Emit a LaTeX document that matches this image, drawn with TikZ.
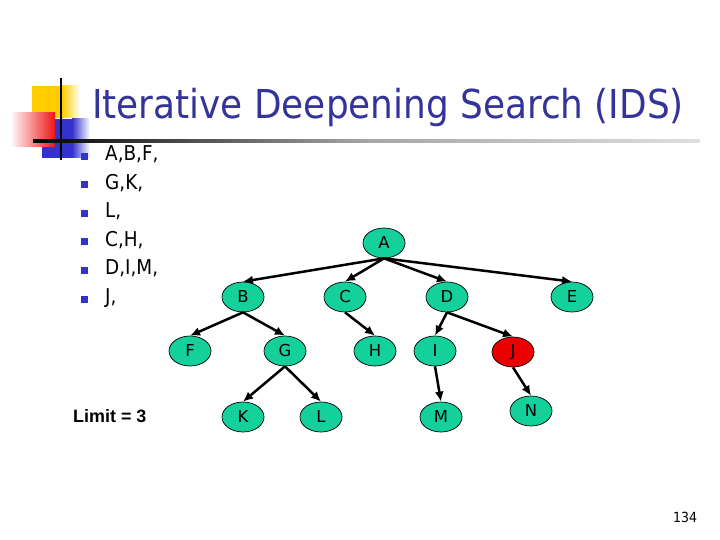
\documentclass[tikz,border=0pt]{standalone}
\usepackage{fontspec}
\setmainfont{DejaVu Sans Condensed}
\newfontfamily\arialfont{Liberation Sans}
\newfontfamily\labfont{DejaVu Sans}
\usetikzlibrary{arrows.meta,shapes.geometric}
\definecolor{titleblue}{RGB}{51,51,153}
\definecolor{bulblue}{RGB}{51,51,204}
\definecolor{decoyellow}{RGB}{255,204,0}
\definecolor{decored}{RGB}{240,20,20}
\definecolor{nodegreen}{RGB}{20,208,155}
\definecolor{nodered}{RGB}{235,0,0}
\tikzset{
  tnode/.style={ellipse,draw=black,line width=0.7bp,fill=nodegreen,minimum width=42bp,minimum height=30bp,inner sep=0pt,font=\labfont\fontsize{16.5}{16.5}\selectfont},
  rnode/.style={tnode,fill=nodered},
  edge/.style={line width=2.5bp,-{Latex[length=10bp,width=9bp]}},
  bul/.style={fill=bulblue,minimum size=7bp,inner sep=0pt},
  btext/.style={anchor=base west,inner sep=0pt,font=\fontsize{20.5}{20.5}\selectfont}
}
\begin{document}
\begin{tikzpicture}[x=1bp,y=-1bp]
\useasboundingbox (0,0) rectangle (720,540);
% decoration
\fill[decoyellow] (32,86) rectangle (62,118);
\shade[left color=decoyellow,right color=white] (62,86) rectangle (80,118);
\fill[bulblue] (42,119) rectangle (72,158);
\shade[left color=bulblue,right color=white] (72,119) rectangle (90,158);
\shade[left color=white,right color=decored] (10,113) rectangle (55,147);
\draw[line width=2bp,black] (61,78) -- (61,160);
\shade[left color=black,right color=gray!25,middle color=gray!70] (33,139.7) rectangle (700,142.3);
% title
\node[anchor=base west,inner sep=0pt,text=titleblue,font=\fontsize{40}{40}\selectfont] (title) at (92,119) {Iterative Deepening Search (IDS)};
% bullets
\foreach \y/\t [count=\i] in {161/{A,B,F,},189.5/{G,K,},218/{L,},246.5/{C,H,},275/{D,I,M,},303.5/{J,}}{
  \node[bul] (b\i) at (84,\y-4.5) {};
  \node[btext] (t\i) at (105,\y) {\t};
}
% tree
\node[tnode] (A) at (384,243) {A};
\node[tnode] (B) at (243,297) {B};
\node[tnode] (C) at (345,297) {C};
\node[tnode] (D) at (447,297) {D};
\node[tnode] (E) at (572,297) {E};
\node[tnode] (F) at (190,351) {F};
\node[tnode] (G) at (285,351) {G};
\node[tnode] (H) at (375,351) {H};
\node[tnode] (I) at (435,351) {I};
\node[rnode] (J) at (513,352) {J};
\node[tnode] (K) at (243,417) {K};
\node[tnode] (L) at (321,417) {L};
\node[tnode] (M) at (441,417) {M};
\node[tnode] (N) at (531,411) {N};
\draw[edge] (A.south) -- (B.north);
\draw[edge] (A.south) -- (C.north);
\draw[edge] (A.south) -- (D.north);
\draw[edge] (A.south) -- (E.north);
\draw[edge] (B.south) -- (F.north);
\draw[edge] (B.south) -- (G.north);
\draw[edge] (C.south) -- (H.north);
\draw[edge] (D.south) -- (I.north);
\draw[edge] (D.south) -- (J.north);
\draw[edge] (G.south) -- (K.north);
\draw[edge] (G.south) -- (L.north);
\draw[edge] (I.south) -- (M.north);
\draw[edge] (J.south) -- (N.north);
% labels
\node[anchor=base west,inner sep=0pt,font=\arialfont\bfseries\fontsize{18}{18}\selectfont] (limit) at (73,422) {Limit = 3};
\node[anchor=base west,inner sep=0pt,font=\fontsize{14}{14}\selectfont] (page) at (673,522) {134};
\end{tikzpicture}
\end{document}
